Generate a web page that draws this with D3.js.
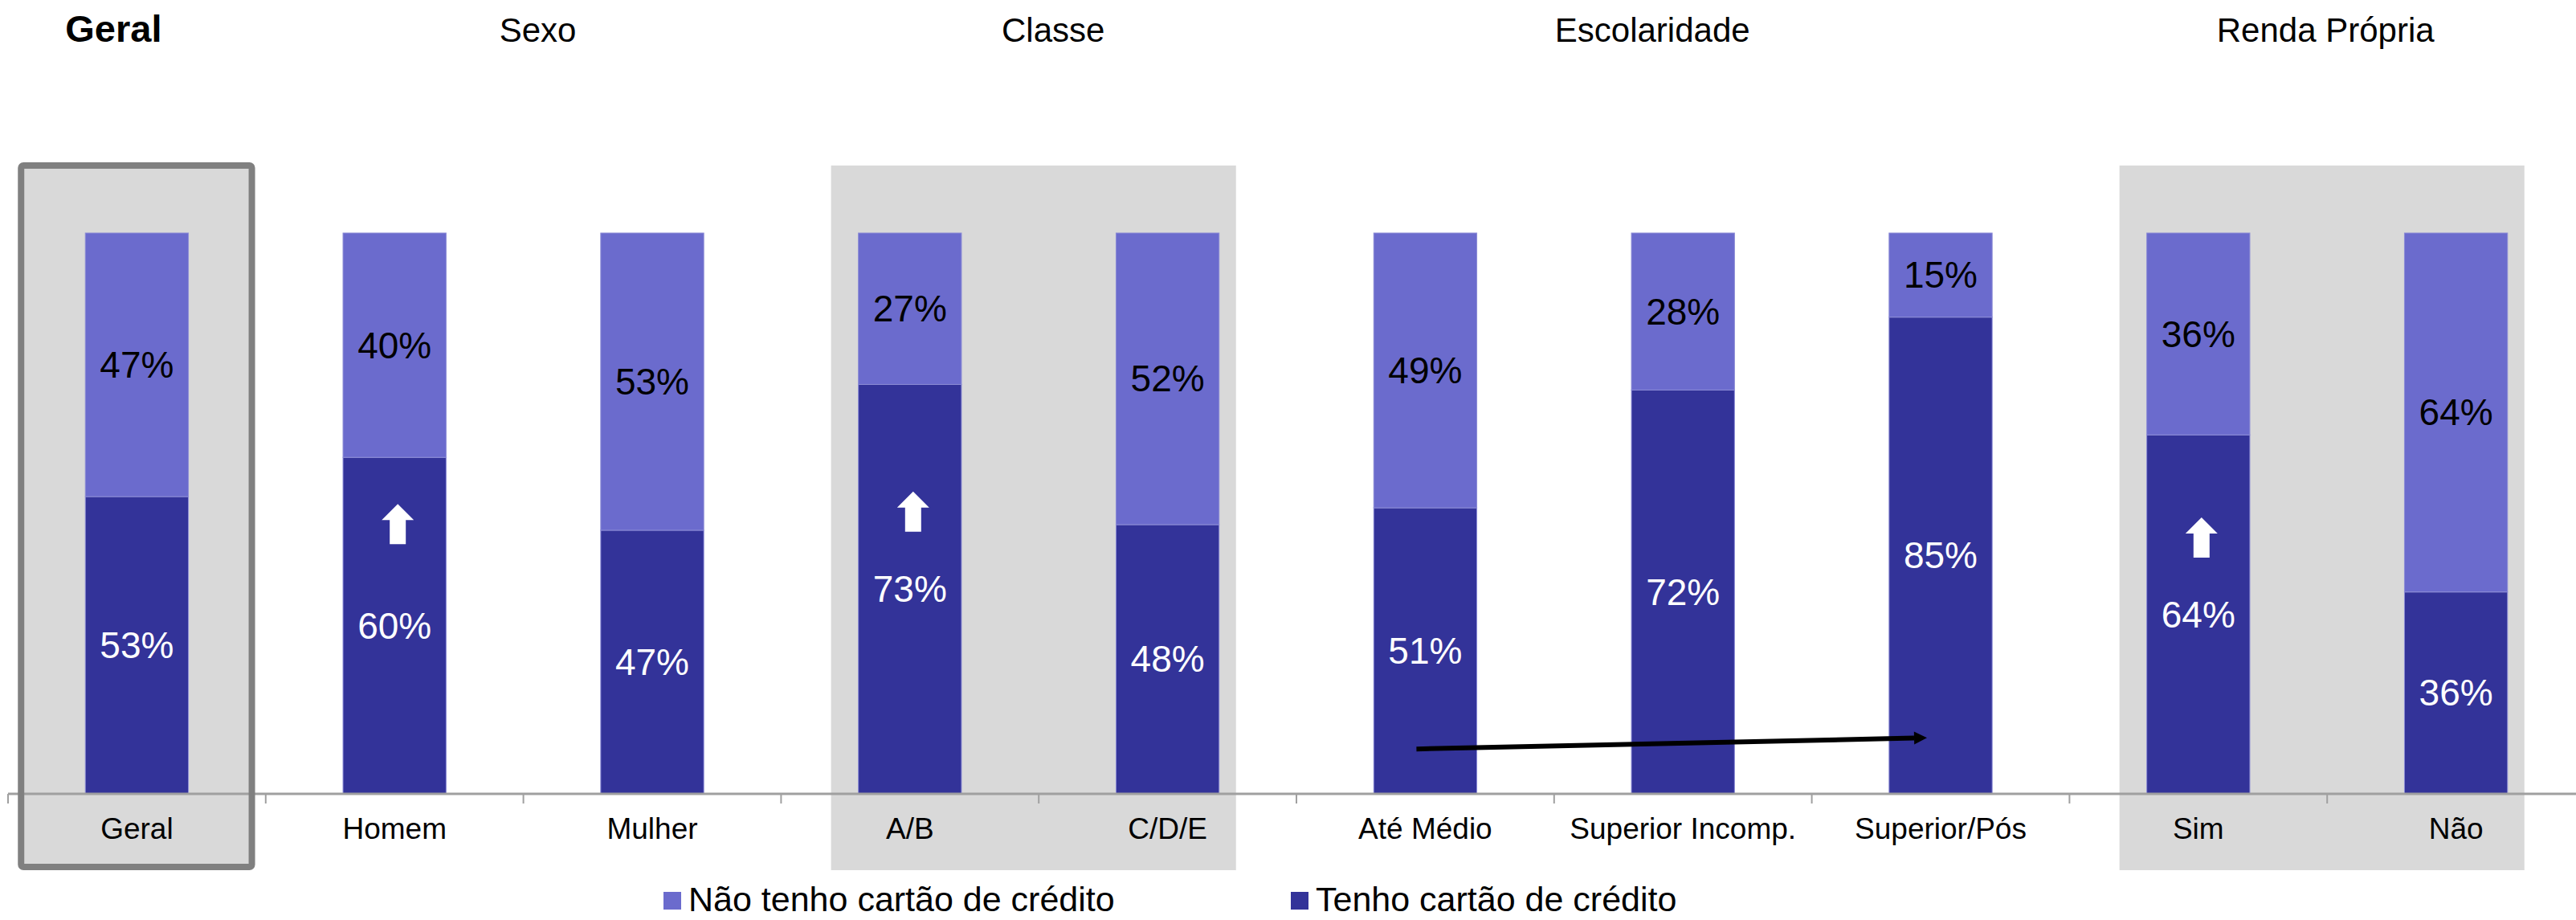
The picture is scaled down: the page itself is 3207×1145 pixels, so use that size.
<!DOCTYPE html>
<html>
<head>
<meta charset="utf-8">
<script src="https://cdn.jsdelivr.net/npm/d3@7"></script>
<style>
  body { margin: 0; background: #fff; }
  svg { display: block; }
  text { font-family: "Liberation Sans", Arial, sans-serif; }
</style>
</head>
<body>
<svg width="3207" height="1145"></svg>
<script>
// dados
const categories = ['Geral', 'Homem', 'Mulher', 'A/B', 'C/D/E', 'Até Médio', 'Superior Incomp.', 'Superior/Pós', 'Sim', 'Não'];
const tenho = [53, 60, 47, 73, 48, 51, 72, 85, 64, 36];
const naoTenho = [47, 40, 53, 27, 52, 49, 28, 15, 36, 64];
const seriesNames = ['Não tenho cartão de crédito', 'Tenho cartão de crédito'];

const groupNames = ['Geral', 'Sexo', 'Classe', 'Escolaridade', 'Renda Própria'];
const groupFirst = ['Geral', 'Homem', 'A/B', 'Até Médio', 'Sim'];
const groupLast = ['Geral', 'Mulher', 'C/D/E', 'Superior/Pós', 'Não'];
const shadedGroups = ['Classe', 'Renda Própria'];

// setas de destaque (nível em % onde fica a ponta)
const upArrowCats = ['Homem', 'A/B', 'Sim'];
const upArrowAt = [51.7, 53.9, 49.3];
const trendFrom = ['Até Médio', 8];
const trendTo = ['Superior/Pós', 10];

const W = 3207, H = 1145;
const colors = { nao: '#6B6BCD', tenho: '#333399' };

const svg = d3.select('svg');

const x = d3.scaleBand()
    .domain(categories)
    .range([10, 3218])
    .paddingInner(0.6)
    .paddingOuter(0.3);
const y = d3.scaleLinear().domain([0, 100]).range([988, 290]);
const bw = x.bandwidth();

const rows = categories.map((c, i) => ({ cat: c, tenho: tenho[i], nao: naoTenho[i] }));
const stacked = d3.stack().keys(['tenho', 'nao'])(rows);

// fundos cinza
groupNames.forEach((g, i) => {
    if (!shadedGroups.includes(g)) return;
    const x0 = x(groupFirst[i]) - 34;
    const x1 = x(groupLast[i]) + bw + 21;
    svg.append('rect')
        .attr('x', x0).attr('y', 206)
        .attr('width', x1 - x0).attr('height', 1083 - 206)
        .attr('fill', '#D9D9D9');
});

// caixa do Geral
const gx0 = x('Geral') - 80, gx1 = x('Geral') + bw + 79;
svg.append('rect')
    .attr('x', gx0).attr('y', 206)
    .attr('width', gx1 - gx0).attr('height', 1079 - 206)
    .attr('fill', '#D9D9D9');

// barras
svg.append('g').selectAll('g').data(stacked).join('g')
    .attr('fill', d => colors[d.key])
    .selectAll('rect').data(d => d).join('rect')
    .attr('x', d => x(d.data.cat))
    .attr('y', d => y(d[1]))
    .attr('width', bw)
    .attr('height', d => y(d[0]) - y(d[1]))
    .attr('stroke', '#8c8cd6')
    .attr('stroke-width', 1);

// rótulos de %
stacked.forEach(s => {
    svg.append('g').selectAll('text').data(s).join('text')
        .attr('x', d => x(d.data.cat) + bw / 2)
        .attr('y', d => (y(d[0]) + y(d[1])) / 2)
        .attr('text-anchor', 'middle')
        .attr('dominant-baseline', 'central')
        .attr('font-size', 46)
        .attr('fill', s.key === 'tenho' ? '#fff' : '#000')
        .text(d => (d[1] - d[0]) + '%');
});

// eixo
const axisY = 988;
const axis = svg.append('g').attr('transform', `translate(0,${axisY})`)
    .call(d3.axisBottom(x).tickSize(0).tickPadding(30));
axis.select('.domain').remove();
axis.selectAll('text')
    .attr('font-size', 37)
    .attr('fill', '#000')
    .attr('font-family', '"Liberation Sans", Arial, sans-serif');

svg.append('line')
    .attr('x1', x.range()[0]).attr('x2', W)
    .attr('y1', axisY).attr('y2', axisY)
    .attr('stroke', '#A0A0A0').attr('stroke-width', 3);

const bounds = d3.range(categories.length + 1).map(i => x.range()[0] + i * x.step());
svg.append('g').selectAll('line').data(bounds).join('line')
    .attr('x1', d => d).attr('x2', d => d)
    .attr('y1', axisY).attr('y2', axisY + 12)
    .attr('stroke', '#A0A0A0').attr('stroke-width', 2);

// borda da caixa Geral
svg.append('rect')
    .attr('x', gx0).attr('y', 206)
    .attr('width', gx1 - gx0).attr('height', 1079 - 206)
    .attr('rx', 3)
    .attr('fill', 'none')
    .attr('stroke', '#808080')
    .attr('stroke-width', 8);

// títulos dos grupos
const titleDx = [-29, 18, 18, -38, -2];
groupNames.forEach((g, i) => {
    const cx = (x(groupFirst[i]) + x(groupLast[i]) + bw) / 2 + titleDx[i];
    svg.append('text')
        .attr('x', cx).attr('y', 52)
        .attr('text-anchor', 'middle')
        .attr('font-size', i === 0 ? 47 : 42)
        .attr('font-weight', i === 0 ? 'bold' : 'normal')
        .text(g);
});

// setas brancas
const up = d3.path();
up.moveTo(0, 0); up.lineTo(20, 20); up.lineTo(10, 20); up.lineTo(10, 50);
up.lineTo(-10, 50); up.lineTo(-10, 20); up.lineTo(-20, 20); up.closePath();
upArrowCats.forEach((c, i) => {
    svg.append('path')
        .attr('d', up.toString())
        .attr('fill', '#fff')
        .attr('transform', `translate(${x(c) + bw / 2 + 4},${y(upArrowAt[i])})`);
});

// seta preta de tendência
const ax0 = x(trendFrom[0]) + bw / 2 - 11, ay0 = y(trendFrom[1]);
const ax1 = x(trendTo[0]) + bw / 2 - 17, ay1 = y(trendTo[1]);
const ang = Math.atan2(ay1 - ay0, ax1 - ax0);
const hl = 16, hw = 8;
const bx = ax1 - hl * Math.cos(ang), by = ay1 - hl * Math.sin(ang);
svg.append('line')
    .attr('x1', ax0).attr('y1', ay0).attr('x2', bx).attr('y2', by)
    .attr('stroke', '#000').attr('stroke-width', 6);
svg.append('path')
    .attr('d', `M${ax1},${ay1}L${bx - hw * Math.sin(ang)},${by + hw * Math.cos(ang)}L${bx + hw * Math.sin(ang)},${by - hw * Math.cos(ang)}Z`)
    .attr('fill', '#000');

// legenda
const legendX = [826, 1607];
const legendColors = [colors.nao, colors.tenho];
seriesNames.forEach((n, i) => {
    const g = svg.append('g').attr('transform', `translate(${legendX[i]},1110)`);
    g.append('rect').attr('width', 22).attr('height', 22).attr('fill', legendColors[i]);
    g.append('text').attr('x', 31).attr('y', 24).attr('font-size', 43).text(n);
});
</script>
</body>
</html>
